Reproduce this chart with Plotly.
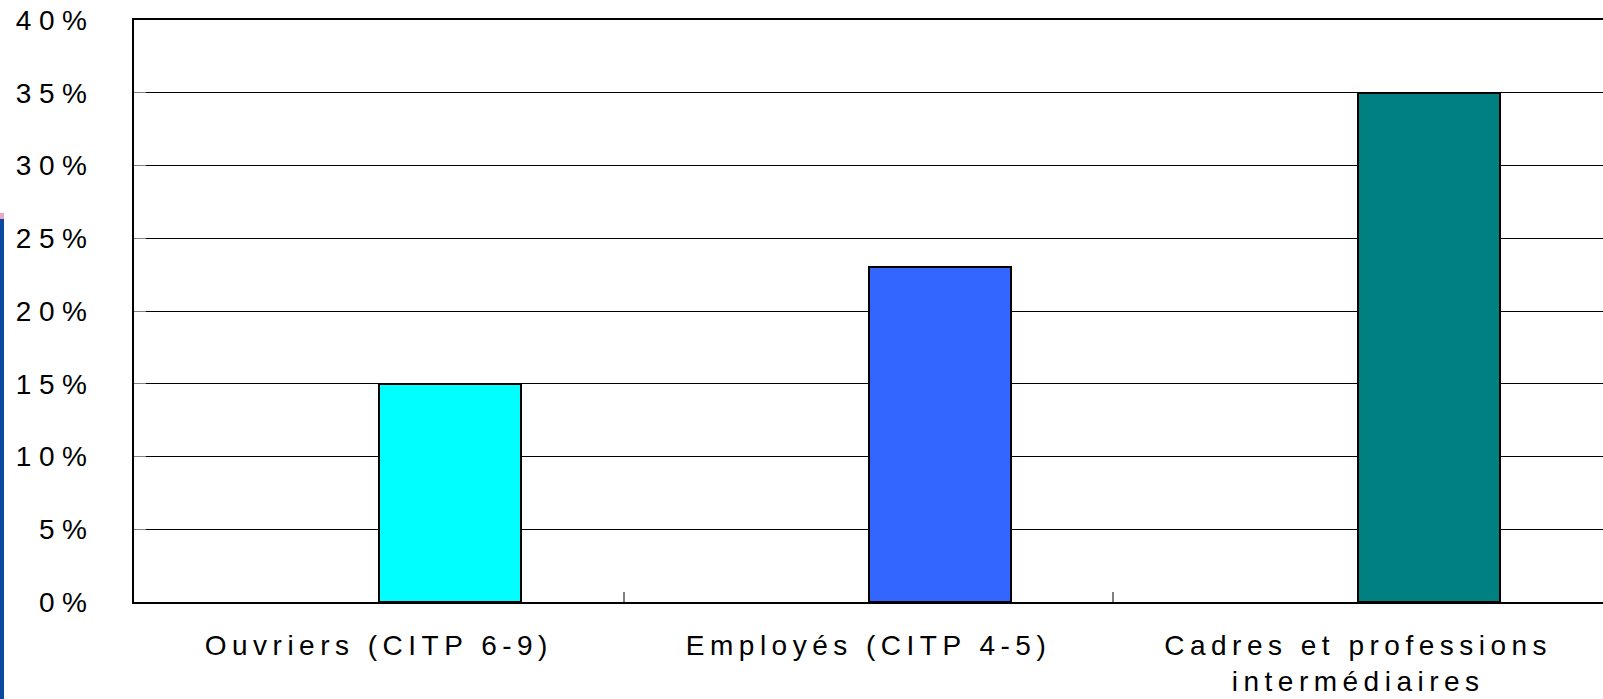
import plotly.graph_objects as go

categories = ["Ouvriers (CITP 6-9)", "Employés (CITP 4-5)", "Cadres et professions<br>intermédiaires"]
values = [15, 23, 35]
colors = ["#00FFFF", "#3366FF", "#008080"]
y_ticks = [0, 5, 10, 15, 20, 25, 30, 35, 40]
y_tick_labels = [f"{v}%" for v in y_ticks]

W, H = 1603, 699
L, R, T, B = 134, 0, 20, 97

fig = go.Figure()
fig.add_trace(go.Bar(
    x=categories,
    y=values,
    marker=dict(color=colors, line=dict(color="black", width=2)),
    offset=0,
    width=0.29,
    showlegend=False,
    hoverinfo="skip",
))

font_family = "Liberation Sans, Arial, sans-serif"

fig.update_layout(
    width=W, height=H,
    margin=dict(l=L, r=R, t=T, b=B, pad=0, autoexpand=False),
    plot_bgcolor="white",
    paper_bgcolor="white",
    font=dict(family=font_family, size=28, color="black"),
    bargap=0,
    xaxis=dict(
        type="category",
        range=[-0.5, 2.5],
        automargin=False,
        showline=True, linecolor="black", linewidth=2,
        mirror=True,
        ticks="inside", tickson="boundaries", ticklen=10, tickwidth=2, tickcolor="#808080",
        ticklabelstandoff=17,
        tickfont=dict(family=font_family, size=28, color="black"),
        showgrid=False,
        zeroline=False,
    ),
    yaxis=dict(
        range=[0, 40],
        automargin=False,
        tickvals=y_ticks,
        ticktext=y_tick_labels,
        showline=True, linecolor="black", linewidth=2,
        mirror=False,
        showgrid=True, gridcolor="black", gridwidth=1,
        ticks="inside", ticklen=12, tickwidth=1, tickcolor="#808080",
        ticklabelstandoff=32,
        tickfont=dict(family=font_family, size=28, color="black"),
        zeroline=False,
    ),
)

# Decorative blue strip at the left edge of the slide
pw = W - L - R
ph = H - T - B
def px_x(p):
    return (p - L) / pw
def px_y(p):
    return (H - B - p) / ph

fig.add_shape(type="rect", xref="paper", yref="paper",
              x0=px_x(0), x1=px_x(4), y0=px_y(699), y1=px_y(219),
              fillcolor="#0B48A0", line=dict(width=0), layer="above")
fig.add_shape(type="rect", xref="paper", yref="paper",
              x0=px_x(0), x1=px_x(4), y0=px_y(219), y1=px_y(213),
              fillcolor="#E9A9C4", line=dict(width=0), layer="above")

post = """
document.body.style.margin = '0';
document.body.style.padding = '0';
document.body.style.overflow = 'hidden';
var s = document.createElement('style');
s.innerHTML = '.xtick text { letter-spacing: 5.5px; } .ytick text { letter-spacing: 7.5px; }';
document.head.appendChild(s);
"""

fig.write_html("out.html", post_script=post, config={"displayModeBar": False})
